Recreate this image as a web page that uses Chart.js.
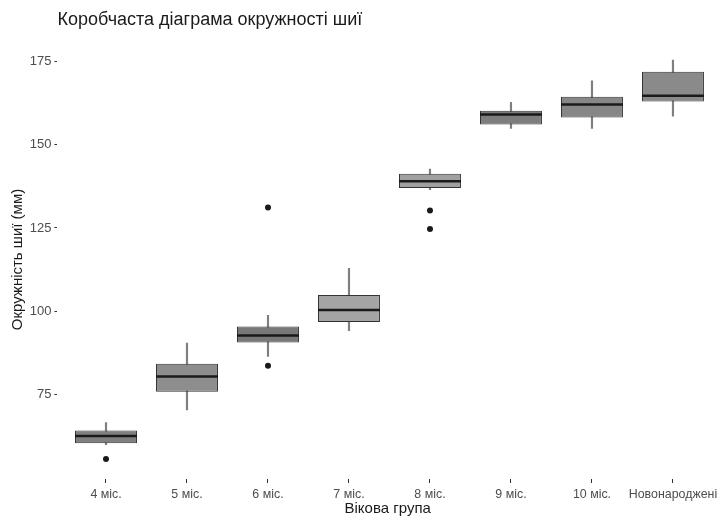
<!DOCTYPE html>
<html>
<head>
<meta charset="utf-8">
<script src="https://cdn.jsdelivr.net/npm/chart.js@4"></script>
<style>
html, body { margin: 0; padding: 0; background: #fff; }
#wrap { width: 718px; height: 518px; }
</style>
</head>
<body>
<div id="wrap"><canvas id="neckChart"></canvas></div>
<script>
// вікові групи та п'ять чисел для кожної коробки
const groups = ["4 міс.", "5 міс.", "6 міс.", "7 міс.", "8 міс.", "9 міс.", "10 міс.", "Новонароджені"];
const whiskerLow = [60.1, 70.5, 86.5, 94.2, 136.5, 154.8, 154.8, 158.5];
const q1 = [60.5, 75.9, 90.7, 96.8, 137.0, 156.0, 158.1, 162.9];
const median = [62.7, 80.5, 92.8, 100.4, 139.0, 159.0, 162.0, 164.6];
const q3 = [64.3, 84.3, 95.5, 104.9, 141.2, 160.1, 164.3, 171.8];
const whiskerHigh = [66.7, 90.5, 98.8, 112.9, 142.6, 162.6, 169.1, 175.3];
const outliers = [[55.8], [], [131.1, 83.7], [], [130.2, 124.7], [], [], []];
const yTicks = [75, 100, 125, 150, 175];
const boxColors = ["#808080", "#8d8d8d", "#787878", "#a4a4a4", "#a0a0a0", "#7e7e7e", "#878787", "#8a8a8a"];

Chart.defaults.font.family = "'Liberation Sans', Arial, sans-serif";

const outlierPoints = [];
outliers.forEach((list, i) => {
    list.forEach((v) => outlierPoints.push({ x: i + 1, y: v }));
});

const ctx = document.getElementById("neckChart").getContext("2d");
const neckChart = new Chart(ctx, {
    type: "bar",
    data: {
        datasets: [{
            type: "scatter",
            label: "Медіана",
            data: median.map((v, i) => ({ x: i + 1, y: v })),
            pointStyle: "line",
            pointRadius: 31,
            borderWidth: 2.5,
            borderColor: "#1a1a1a"
        },
        {
            type: "scatter",
            label: "Викиди",
            data: outlierPoints,
            pointRadius: 3,
            backgroundColor: "#1a1a1a",
            borderWidth: 0
        },
        {
            label: "Коробки",
            data: q1.map((v, i) => ({ x: i + 1, y: [v, q3[i]] })),
            backgroundColor: boxColors,
            borderColor: "#333333",
            borderWidth: 1,
            borderSkipped: false,
            grouped: false,
            categoryPercentage: 1,
            barPercentage: 0.765
        },
        {
            label: "Вуса",
            data: whiskerLow.map((v, i) => ({ x: i + 1, y: [v, whiskerHigh[i]] })),
            backgroundColor: "#7f7f7f",
            borderWidth: 0,
            grouped: false,
            categoryPercentage: 1,
            barPercentage: 1,
            maxBarThickness: 1.5
        }]
    },
    options: {
        responsive: true,
        maintainAspectRatio: false,
        animation: false,
        events: [],
        // без autoPadding, інакше радіус медіани з'їдає праве поле
        layout: { padding: 0, autoPadding: false },
        plugins: {
            legend: { display: false },
            tooltip: { enabled: false },
            title: {
                display: true,
                text: "Коробчаста діаграма окружності шиї",
                align: "start",
                fullSize: false,
                color: "#1a1a1a",
                font: { size: 18, weight: "normal" },
                padding: { top: 9.2, bottom: 9.2 }
            }
        },
        scales: {
            x: {
                type: "linear",
                bounds: "data",
                offset: false,
                min: 0.4,
                max: 8.556,
                afterBuildTicks: (scale) => {
                    scale.ticks = groups.map((g, i) => ({ value: i + 1 }));
                },
                afterFit: (scale) => {
                    scale.height = 39;
                    scale.paddingLeft = 0;
                    scale.paddingRight = 0;
                },
                ticks: {
                    callback: (value) => groups[value - 1],
                    autoSkip: false,
                    maxRotation: 0,
                    padding: 4,
                    color: "#4d4d4d",
                    font: { size: 12.4 }
                },
                grid: { offset: false, drawOnChartArea: false, tickLength: 4, color: "#333333" },
                border: { display: false },
                title: {
                    display: true,
                    text: "Вікова група",
                    color: "#1a1a1a",
                    font: { size: 15 },
                    padding: { top: 0, bottom: 0 }
                }
            },
            y: {
                bounds: "data",
                min: 49.8,
                max: 181.3,
                afterBuildTicks: (scale) => {
                    scale.ticks = yTicks.map((v) => ({ value: v }));
                },
                afterFit: (scale) => {
                    scale.width = 57.4;
                    scale.paddingTop = 0;
                    scale.paddingBottom = 0;
                },
                ticks: {
                    padding: 3,
                    color: "#4d4d4d",
                    font: { size: 13 }
                },
                grid: { drawOnChartArea: false, tickLength: 3, color: "#333333" },
                border: { display: false },
                title: {
                    display: true,
                    text: "Окружність шиї (мм)",
                    color: "#1a1a1a",
                    font: { size: 15 },
                    padding: { top: 9, bottom: 0 }
                }
            }
        }
    }
});
</script>
</body>
</html>
